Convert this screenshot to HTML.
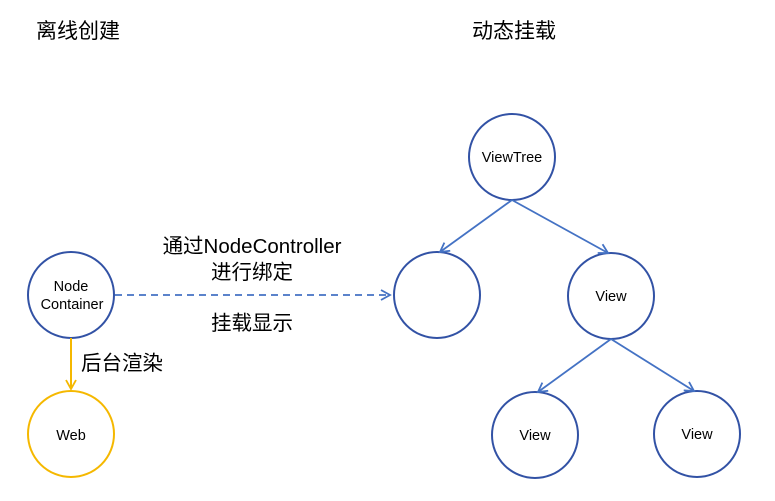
<!DOCTYPE html>
<html><head><meta charset="utf-8"><style>
html,body{margin:0;padding:0;background:#fff;}
svg{display:block;}
text{font-family:"Liberation Sans","Noto Sans CJK SC",sans-serif;fill:#000;}
</style></head><body>
<svg width="775" height="501" viewBox="0 0 775 501" xmlns="http://www.w3.org/2000/svg">
<defs>
<marker id="ab" markerWidth="12" markerHeight="12" refX="10" refY="6" orient="auto" markerUnits="userSpaceOnUse"><path d="M1,1 L10,6 L1,11" fill="none" stroke="#4472C4" stroke-width="1.8"/></marker>
<marker id="ay" markerWidth="12" markerHeight="12" refX="10" refY="6" orient="auto" markerUnits="userSpaceOnUse"><path d="M1,1 L10,6 L1,11" fill="none" stroke="#F5B800" stroke-width="1.8"/></marker>
</defs>
<text x="36" y="38" font-size="21">离线创建</text>
<text x="472" y="38" font-size="21">动态挂载</text>
<g fill="none" stroke="#3252A5" stroke-width="2">
<circle cx="71" cy="295" r="43"/>
<circle cx="437" cy="295" r="43"/>
<circle cx="512" cy="157" r="43"/>
<circle cx="611" cy="296" r="43"/>
<circle cx="535" cy="435" r="43"/>
<circle cx="697" cy="434" r="43"/>
</g>
<circle cx="71" cy="434" r="43" fill="none" stroke="#F5B800" stroke-width="2"/>
<g stroke="#4472C4" stroke-width="1.8" fill="none">
<line x1="115" y1="295" x2="390" y2="295" stroke-dasharray="7,5" marker-end="url(#ab)"/>
<line x1="512" y1="200" x2="440" y2="252" marker-end="url(#ab)"/>
<line x1="512" y1="200" x2="608" y2="253" marker-end="url(#ab)"/>
<line x1="611" y1="339" x2="538" y2="392" marker-end="url(#ab)"/>
<line x1="611" y1="339" x2="694" y2="391" marker-end="url(#ab)"/>
</g>
<line x1="71" y1="338" x2="71" y2="389" stroke="#F5B800" stroke-width="2" marker-end="url(#ay)"/>
<g font-size="14.5" text-anchor="middle">
<text x="71" y="291">Node</text>
<text x="72" y="309">Container</text>
<text x="71" y="440">Web</text>
<text x="512" y="162">ViewTree</text>
<text x="611" y="301">View</text>
<text x="535" y="440">View</text>
<text x="697" y="439">View</text>
</g>
<g font-size="20.5" text-anchor="middle">
<text x="252" y="253">通过NodeController</text>
<text x="252" y="279">进行绑定</text>
<text x="252" y="330">挂载显示</text>
</g>
<text x="81" y="370" font-size="20.5">后台渲染</text>
</svg>
</body></html>
